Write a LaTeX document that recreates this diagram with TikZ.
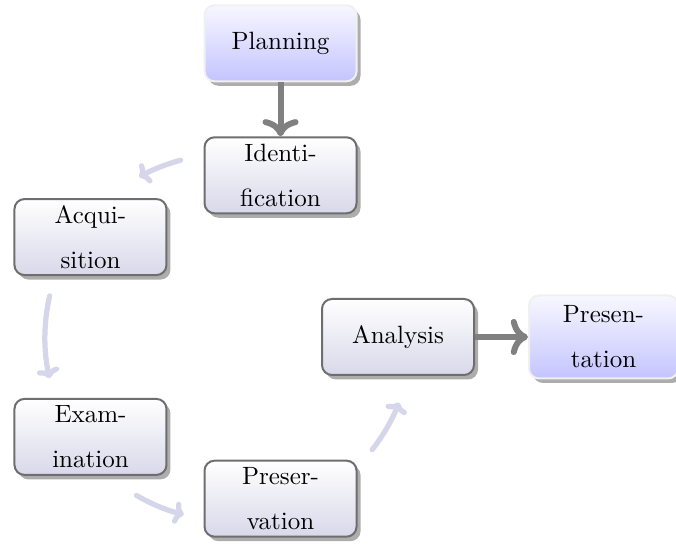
\documentclass[tikz,border=0pt]{standalone}
\usetikzlibrary{positioning, shadows, calc, arrows.meta}

\definecolor{arcgray}{RGB}{214,214,234}
\definecolor{boxline}{RGB}{110,110,110}
\definecolor{boxbottom}{RGB}{216,216,234}
\definecolor{bluebottom}{RGB}{196,196,255}

\tikzset{
	stage/.style={draw=boxline, line width=0.8pt, rounded corners=4pt,
		top color=white, bottom color=boxbottom,
		minimum width=60.8pt, minimum height=30.4pt, inner sep=1pt,
		align=center, font=\linespread{1.5}\selectfont,
		drop shadow={shadow xshift=1.6pt, shadow yshift=-1.8pt, fill=black!32, opacity=1}},
	endstage/.style={stage, draw=black!6, top color=blue!3, bottom color=bluebottom},
	flow/.style={->, draw=gray, line width=2.4pt},
	loopflow/.style={-{To[length=4pt, width=9pt]}, draw=arcgray, line width=2.1pt, line cap=round}
}

\begin{document}
\begin{tikzpicture}
	\useasboundingbox (0,0) rectangle (270.4pt,218.4pt);
	\coordinate (c) at (91.2pt,83.6pt);

	\node[stage] (ana) at ($(c)+(0:68pt)$) {Analysis};
	\node[stage] (ident) at ($(c)+(72:68pt)$) {Identi-\\fication};
	\node[stage] (acq) at ($(c)+(144:68pt)$) {Acqui-\\sition};
	\node[stage] (exam) at ($(c)+(216:68pt)$) {Exam-\\ination};
	\node[stage] (pres) at ($(c)+(288:68pt)$) {Preser-\\vation};
	\node[endstage, above=21.6pt of ident] (plan) {Planning};
	\node[endstage, right=21.2pt of ana, minimum width=59.6pt, minimum height=33.2pt] (present) {Presen-\\tation};

	\draw[flow] (plan) -- (ident);
	\draw[flow] (ana) -- (present);

	% arcs round the cycle
	\draw[loopflow] ([shift={(105:73.2pt)}]c) arc[start angle=105, end angle=119, radius=73.2pt];
	\draw[loopflow] ([shift={(167:73.2pt)}]c) arc[start angle=167, end angle=193, radius=73.2pt];
	\draw[loopflow] ([shift={(240:73.2pt)}]c) arc[start angle=240, end angle=256, radius=73.2pt];
	\draw[loopflow] ([shift={(322:73.2pt)}]c) arc[start angle=322, end angle=339, radius=73.2pt];
\end{tikzpicture}
\end{document}
